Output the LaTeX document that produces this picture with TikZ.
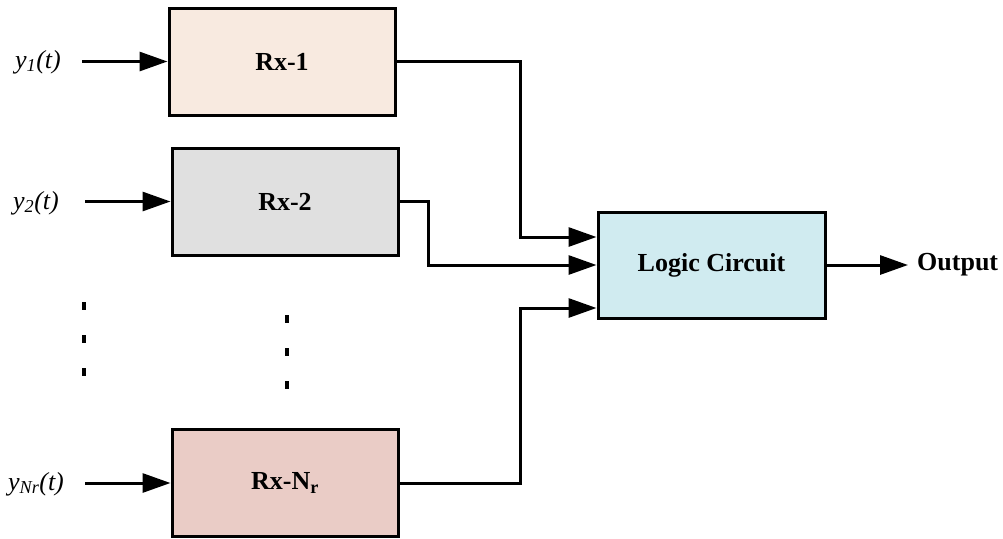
\documentclass[tikz,border=0pt]{standalone}
\usepackage{fontspec}
\setmainfont{Liberation Serif}
\usetikzlibrary{arrows.meta}
\definecolor{rxone}{HTML}{F8EAE0}
\definecolor{rxtwo}{HTML}{E0E0E0}
\definecolor{rxn}{HTML}{EACCC6}
\definecolor{logicc}{HTML}{D0EBF0}
\begin{document}
\begin{tikzpicture}[x=1pt,y=-1pt,
 box/.style={draw,line width=3pt,inner sep=0pt,font=\fontsize{26}{30}\selectfont\bfseries},
 conn/.style={line width=3pt,-{Triangle[length=28pt,width=19pt]}},
 lab/.style={font=\fontsize{26}{30}\selectfont\itshape,inner sep=0pt},
 outlab/.style={font=\fontsize{26}{30}\selectfont\bfseries,inner sep=0pt},
 dots/.style={line width=3.5pt,dash pattern=on 8pt off 25pt}]
\useasboundingbox (0,0) rectangle (1003,538);
\node[box,fill=rxone,minimum width=226pt,minimum height=107pt] (r1) at (282,61.5) {Rx-1};
\node[box,fill=rxtwo,minimum width=226pt,minimum height=107pt] (r2) at (285,201.5) {Rx-2};
\node[box,fill=rxn,minimum width=226pt,minimum height=107pt] (rn) at (285,483) {Rx-N\textsubscript{r}};
\node[box,fill=logicc,minimum width=227pt,minimum height=106pt] (lc) at (711.5,265) {Logic Circuit};
\node[lab] (y1) at (38,62) {y\textsubscript{1}(t)};
\node[lab] (y2) at (36,203) {y\textsubscript{2}(t)};
\node[lab] (yn) at (36,484) {y\textsubscript{Nr}(t)};
\node[outlab,anchor=west] (out) at (917,265) {Output};
\coordinate (s1) at (82,61.5);
\coordinate (s2) at (85,201.5);
\coordinate (sn) at (85,483);
\draw[conn] (s1) -- (r1.west);
\draw[conn] (s2) -- (r2.west);
\draw[conn] (sn) -- (rn.west);
\draw[conn] (r1.east) -- ++(124,0) |- ([yshift=28pt]lc.west);
\draw[conn] (r2.east) -- ++(29,0) |- (lc.west);
\draw[conn] (rn.east) -- ++(121,0) |- ([yshift=-43pt]lc.west);
\draw[conn] (lc.east) -- ([xshift=-9pt]out.west |- lc.east);
\coordinate (d1a) at (84,302);
\coordinate (d1b) at (84,376);
\coordinate (d2a) at (287,315);
\coordinate (d2b) at (287,390);
\draw[dots] (d1a) -- (d1b);
\draw[dots] (d2a) -- (d2b);
\end{tikzpicture}
\end{document}
